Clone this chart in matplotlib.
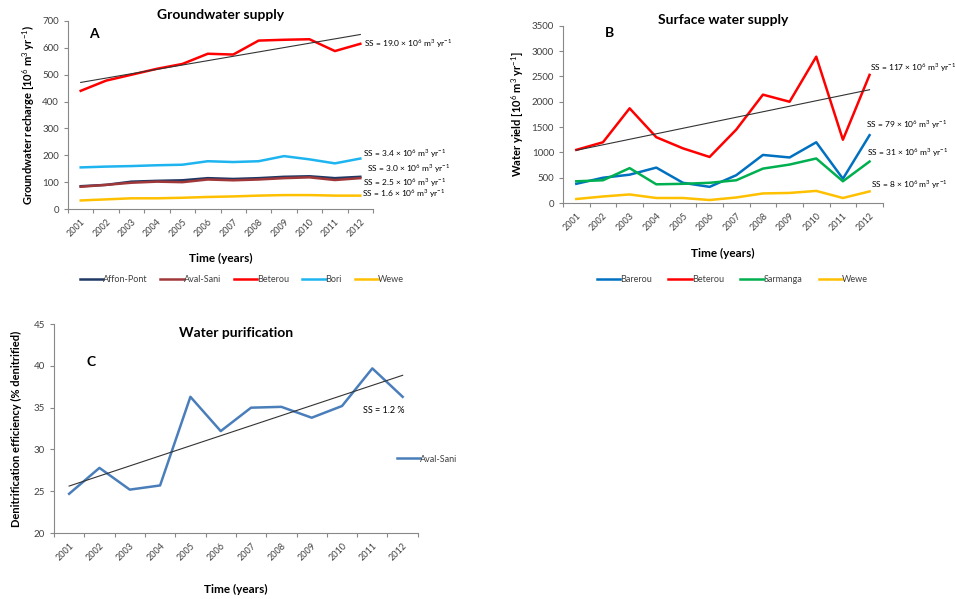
import numpy as np
import matplotlib
matplotlib.use("Agg")
import matplotlib.pyplot as plt

plt.rcParams['font.family'] = ['Lato', 'DejaVu Sans']
plt.rcParams['mathtext.fontset'] = 'custom'
plt.rcParams['mathtext.rm'] = 'Lato'

years = [str(y) for y in range(2001, 2013)]

# A - groundwater recharge (10^6 m3/yr)
gw_affon = [85, 90, 102, 105, 107, 115, 112, 115, 120, 122, 115, 120]
gw_aval = [83, 90, 98, 102, 100, 110, 107, 110, 115, 118, 108, 115]
gw_beterou = [440, 478, 500, 522, 540, 578, 575, 627, 630, 632, 588, 615]
gw_bori = [155, 158, 160, 163, 165, 178, 175, 178, 197, 185, 170, 188]
gw_wewe = [32, 36, 40, 40, 42, 45, 47, 50, 52, 52, 50, 50]

# B - water yield (10^6 m3/yr)
sw_barerou = [380, 500, 560, 700, 400, 320, 550, 950, 900, 1200, 480, 1340]
sw_beterou = [1050, 1200, 1870, 1300, 1080, 910, 1450, 2140, 2000, 2890, 1250, 2530]
sw_sarmanga = [430, 450, 690, 370, 380, 400, 450, 680, 760, 880, 430, 820]
sw_wewe = [80, 130, 170, 100, 100, 60, 110, 190, 200, 240, 100, 230]

# C - denitrification efficiency (%)
wp_aval = [24.7, 27.8, 25.2, 25.7, 36.3, 32.2, 35.0, 35.1, 33.8, 35.2, 39.7, 36.3]

ss_gw = ["19.0", "3.4", "3.0", "2.5", "1.6"]
ss_sw = ["117", "79", "31", "8"]


def ss_label(v):
    return "SS = " + v + r" × 10$^{6}$ m$^{3}$ yr$^{-1}$"


def style_axes(ax, ylim, yticks):
    x = np.arange(len(years))
    ax.set_xlim(-0.5, len(years) - 0.5)
    ax.set_ylim(*ylim)
    ax.set_yticks(yticks)
    ax.set_xticks(np.arange(-0.5, len(years)), minor=False)
    ax.set_xticklabels([])
    ax.set_xticks(x, minor=True)
    ax.set_xticklabels(years, minor=True, rotation=45, ha='right',
                       rotation_mode='anchor', fontsize=6.5, color='#404040')
    ax.tick_params(axis='x', which='minor', length=0, pad=6)
    ax.tick_params(axis='x', which='major', length=3, color='#888888')
    ax.tick_params(axis='y', length=3, labelsize=7, colors='#404040')
    ax.tick_params(axis='y', color='#888888')
    for s in ['top', 'right']:
        ax.spines[s].set_visible(False)
    for s in ['left', 'bottom']:
        ax.spines[s].set_color('#888888')
        ax.spines[s].set_linewidth(0.8)


def trend(ax, vals):
    x = np.arange(len(vals))
    k, b = np.polyfit(x, vals, 1)
    ax.plot(x, k * x + b, color='#333333', lw=0.8, zorder=5)


fig = plt.figure(figsize=(9.55, 5.99), dpi=100)
x = np.arange(len(years))

# ---- panel A
axA = fig.add_axes([0.0712, 0.651, 0.3194, 0.314])
axA.plot(x, gw_affon, color='#1F3864', lw=1.8, label='Affon-Pont')
axA.plot(x, gw_aval, color='#A0383A', lw=1.8, label='Aval-Sani')
axA.plot(x, gw_beterou, color='#FF0000', lw=1.8, label='Beterou')
axA.plot(x, gw_bori, color='#1EB4F0', lw=1.8, label='Bori')
axA.plot(x, gw_wewe, color='#FFC000', lw=1.8, label='Wewe')
trend(axA, gw_beterou)
style_axes(axA, (0, 700), range(0, 701, 100))
axA.set_ylabel(r"Groundwater recharge [10$^{6}$ m$^{3}$ yr$^{-1}$)",
               fontsize=8, fontweight='bold', labelpad=4)
axA.set_xlabel("Time (years)", fontsize=8.5, fontweight='bold', labelpad=10)
axA.set_title("Groundwater supply", fontsize=10, fontweight='bold', pad=0)
axA.text(0.07, 0.93, "A", transform=axA.transAxes, fontsize=10,
         fontweight='bold', va='center')
for txt, yv, dx in zip(ss_gw, [614, 208, 149, 100, 56], [11.15, 11.1, 11.25, 11.1, 11.05]):
    axA.text(dx, yv, ss_label(txt), fontsize=6, va='center', clip_on=False)
axA.legend(loc='upper center', bbox_to_anchor=(0.57, -0.31), ncol=5,
           frameon=False, fontsize=6.5, handlelength=2.6, columnspacing=1.4,
           handletextpad=0.0, labelcolor='#404040')

# ---- panel B
axB = fig.add_axes([0.5895, 0.661, 0.335, 0.296])
axB.plot(x, sw_barerou, color='#0070C0', lw=1.8, label='Barerou')
axB.plot(x, sw_beterou, color='#FF0000', lw=1.8, label='Beterou')
axB.plot(x, sw_sarmanga, color='#00B050', lw=1.8, label='Sarmanga')
axB.plot(x, sw_wewe, color='#FFC000', lw=1.8, label='Wewe')
trend(axB, sw_beterou)
style_axes(axB, (0, 3500), range(0, 3501, 500))
axB.set_ylabel(r"Water yield [10$^{6}$ m$^{3}$ yr$^{-1}$]",
               fontsize=8, fontweight='bold', labelpad=4)
axB.set_xlabel("Time (years)", fontsize=8.5, fontweight='bold', labelpad=11)
axB.set_title("Surface water supply", fontsize=10, fontweight='bold', pad=0)
axB.text(0.13, 0.96, "B", transform=axB.transAxes, fontsize=10,
         fontweight='bold', va='center')
for txt, yv, dx in zip(ss_sw, [2665, 1540, 987, 355], [11.0, 10.85, 10.9, 11.05]):
    axB.text(dx, yv, ss_label(txt), fontsize=6, va='center', clip_on=False)
axB.legend(loc='upper center', bbox_to_anchor=(0.53, -0.36), ncol=4,
           frameon=False, fontsize=6.5, handlelength=2.6, columnspacing=1.8,
           handletextpad=0.0, labelcolor='#404040')

# ---- panel C
axC = fig.add_axes([0.0565, 0.110, 0.381, 0.349])
axC.plot(x, wp_aval, color='#4A7EBB', lw=1.8, label='Aval-Sani')
trend(axC, wp_aval)
style_axes(axC, (20, 45), range(20, 46, 5))
axC.set_ylabel("Denitrification efficiency (% denitrified)",
               fontsize=8, fontweight='bold', labelpad=8)
axC.set_xlabel("Time (years)", fontsize=8.5, fontweight='bold', labelpad=15)
axC.set_title("Water purification", fontsize=10, fontweight='bold', y=0.9)
axC.text(0.09, 0.82, "C", transform=axC.transAxes, fontsize=10,
         fontweight='bold', va='center')
axC.text(9.7, 34.7, "SS = 1.2 %", fontsize=6.5, va='center')
axC.legend(loc='center left', bbox_to_anchor=(0.92, 0.354), frameon=False,
           fontsize=6.5, handlelength=2.6, handletextpad=0.0,
           labelcolor='#404040')

fig.savefig("out.png", dpi=100)
